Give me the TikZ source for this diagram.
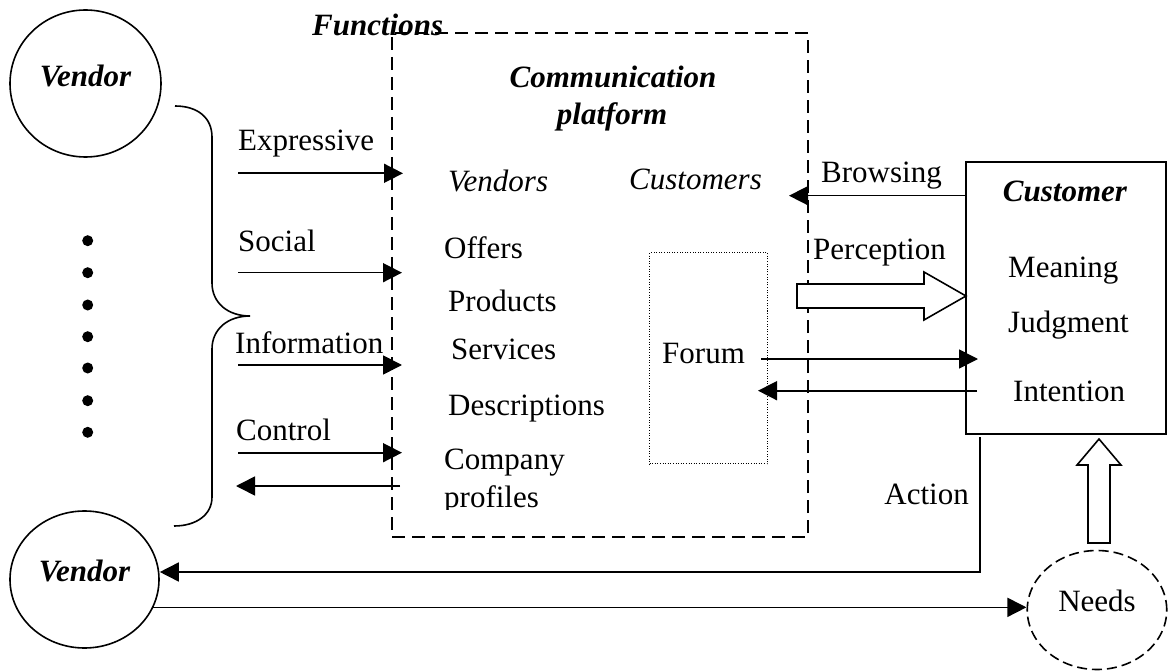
\documentclass[tikz,border=0pt]{standalone}
\usepackage{fontspec}
\setmainfont{Liberation Serif}
\usetikzlibrary{arrows.meta,shapes.geometric}
\begin{document}
\begin{tikzpicture}[x=1pt,y=-1pt,
  every node/.style={font=\fontsize{31}{37}\selectfont, inner sep=0pt},
  txt/.style={anchor=base west},
  bi/.style={font=\fontsize{31}{37}\selectfont\bfseries\itshape},
  it/.style={font=\fontsize{31}{37}\selectfont\itshape},
  ln/.style={line width=1.6pt},
  arr/.style={line width=1.6pt, -{Triangle[length=19pt,width=19pt]}},
  dotnode/.style={circle, fill, minimum size=11pt},
  hollow/.style={line width=1.6pt, fill=white, line join=miter}
]
\useasboundingbox (0,0) rectangle (1168,671);

% vendors
\node[draw, ln, ellipse, minimum width=151pt, minimum height=147pt, bi,
      text height=21pt, text depth=14.6pt] (v1) at (85.5,83.5) {Vendor};
\node[draw, ln, ellipse, minimum width=149pt, minimum height=137pt, bi,
      text height=21pt, text depth=16.6pt] (v2) at (84.5,579.5) {Vendor};

% dots
\foreach \y [count=\i] in {240.7,272.7,305,336.7,368,400.7,432.3}
  \node[dotnode] (d\i) at (87.7,\y) {};

% brace
\draw[ln] (175,106) .. controls (198,106) and (212,118) .. (212,137)
  -- (212,283) .. controls (212,303) and (228,316) .. (250,316)
  .. controls (228,316) and (212,329) .. (212,349)
  -- (212,497) .. controls (212,515) and (196,526) .. (174,526);

% platform (dashed)
\node[draw, line width=1.6pt, dash pattern=on 13pt off 7pt,
      minimum width=416pt, minimum height=504pt] (plat) at (600,285) {};
\node[bi, txt] (func) at (312,36) {Functions};
\node[bi, anchor=base] (comm) at (613,88) {Communication};
\node[bi, anchor=base] (platt) at (612,125) {platform};
\node[it, txt] (vends) at (448,192) {Vendors};
\node[it, txt] (custs) at (629,190) {Customers};
\node[txt] (offers) at (444,259) {Offers};
\node[txt] (prod) at (448,312) {Products};
\node[txt] (serv) at (451,359) {Services};
\node[txt] (desc) at (448,415) {Descriptions};
\node[txt] (comp) at (444,469) {Company};
\begin{scope}
  \clip (400,470) rectangle (660,509.5);
  \node[txt] (prof) at (444,507) {profiles};
\end{scope}

% forum
\node[draw, line width=1pt, dash pattern=on 1pt off 1.6pt,
      minimum width=118pt, minimum height=211pt] (fbox) at (708.5,358.4) {};
\node[txt] (forum) at (662,363) {Forum};

% left labels and arrows
\node[txt] (expr) at (238,151) {Expressive};
\node[txt] (soc) at (238,252) {Social};
\node[txt] (info) at (235,353) {Information};
\node[txt] (ctrl) at (236,440) {Control};
\coordinate (ex0) at (238,173.3); \coordinate (ex1) at (403,173.3);
\coordinate (so0) at (238,272.7); \coordinate (so1) at (402,272.7);
\coordinate (in0) at (238,365);   \coordinate (in1) at (402,365);
\coordinate (co0) at (238,452.7); \coordinate (co1) at (402,452.7);
\coordinate (rt0) at (400,486);   \coordinate (rt1) at (236,486);
\draw[arr] (ex0) -- (ex1);
\draw[arr] (so0) -- (so1);
\draw[arr] (in0) -- (in1);
\draw[arr] (co0) -- (co1);
\draw[arr] (rt0) -- (rt1);

% customer box
\node[draw, ln, minimum width=200pt, minimum height=272pt] (cust) at (1066,298) {};
\node[bi, anchor=base] (custt) at (1065,202) {Customer};
\node[txt] (mean) at (1008,278) {Meaning};
\node[txt] (judg) at (1008,332) {Judgment};
\node[txt] (inten) at (1013,401) {Intention};

% right arrows
\node[txt] (brws) at (821,183) {Browsing};
\node[txt] (perc) at (813,260) {Perception};
\coordinate (br1) at (789,195.7);
\draw[arr] (cust.west |- br1) -- (br1);
\draw[hollow] (797,284) -- (924,284) -- (924,272) -- (966,296) -- (924,320)
  -- (924,308) -- (797,308) -- cycle;
\coordinate (fo0) at (761,359); \coordinate (fo1) at (978,359);
\draw[arr] (fo0) -- (fo1);
\coordinate (it0) at (977,390.7); \coordinate (it1) at (758,390.7);
\draw[arr] (it0) -- (it1);

% needs
\node[draw, ln, dash pattern=on 10pt off 5pt, ellipse, minimum width=139.5pt,
      minimum height=119pt, text height=21pt, text depth=17.6pt] (needs) at (1097,610) {Needs};
\draw[hollow] (1088,543) -- (1088,465) -- (1077,465) -- (1099,439) -- (1121,465)
  -- (1110,465) -- (1110,543) -- cycle;

% action
\node[anchor=base east] (act) at (969,504) {Action};
\coordinate (a0) at (980,437); \coordinate (a1) at (980,572);
\draw[arr] (a0) -- (a1) -- (a1 -| v2.east);
\draw[arr] (v2.-22.8) -- (v2.-22.8 -| needs.west);
\end{tikzpicture}
\end{document}
